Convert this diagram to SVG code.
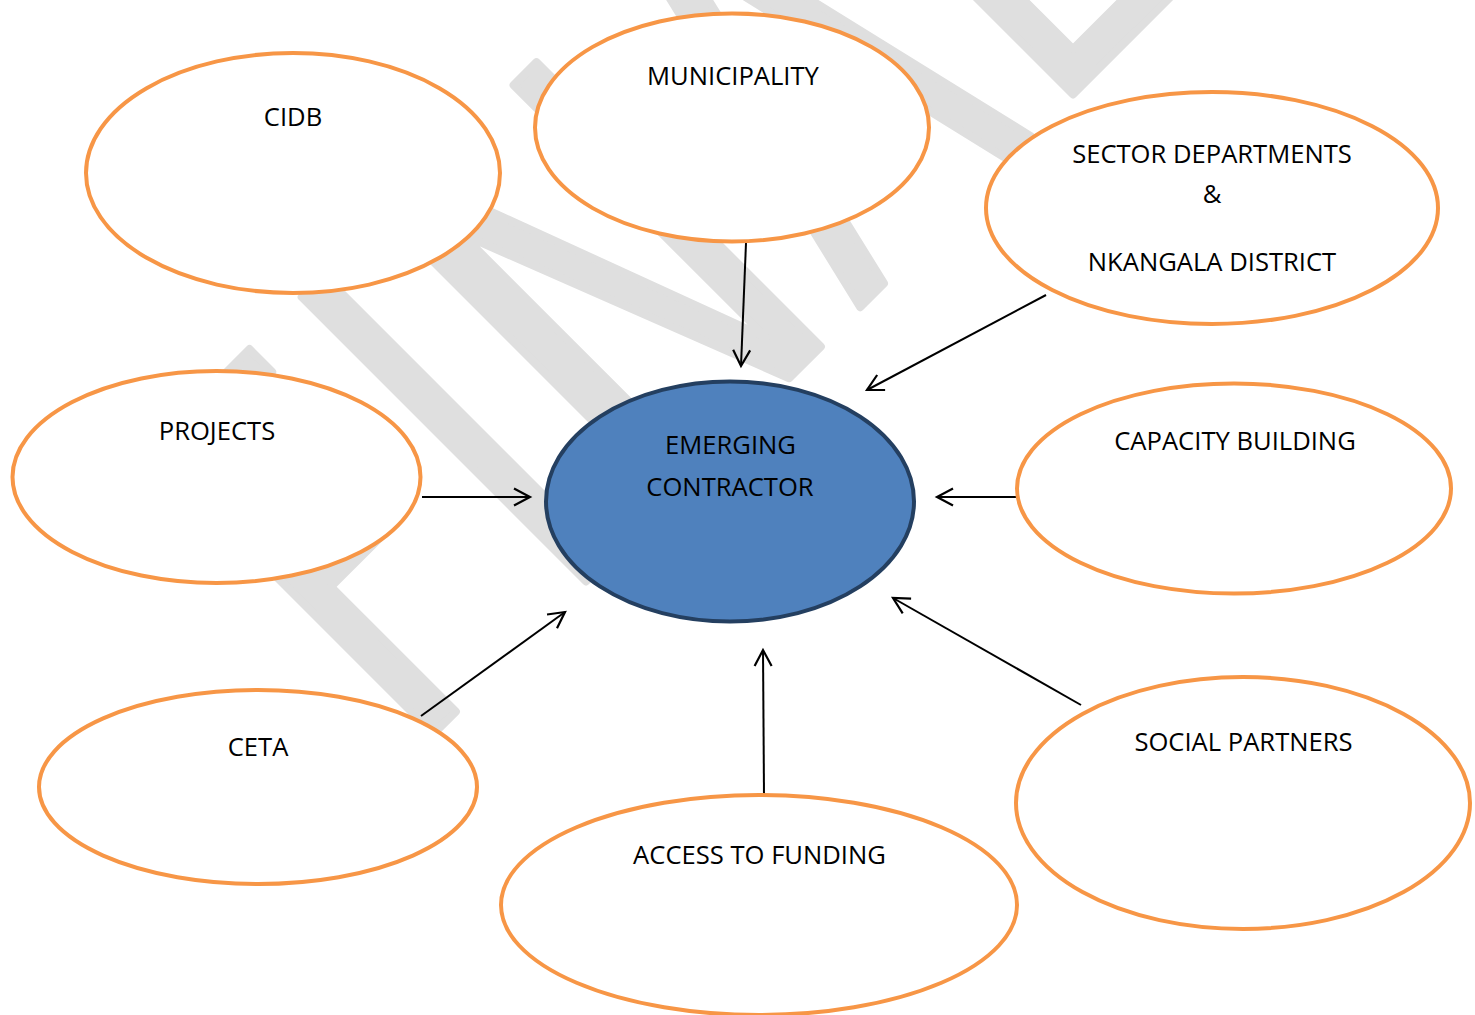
<svg xmlns="http://www.w3.org/2000/svg" width="1475" height="1015" viewBox="0 0 1475 1015">
  <defs>
    <style>
      .node { fill: #ffffff; stroke: #F79646; stroke-width: 4; }
      .hub { fill: #4F81BD; stroke: #243F60; stroke-width: 4; }
      .label { font-family: "Open Sans", "Liberation Sans", sans-serif; font-size: 25.6px; fill: #000000; text-anchor: middle; }
      .link { stroke: #000000; stroke-width: 2; fill: none; marker-end: url(#arrow); }
      .wm { fill: #dfdfdf; stroke: #dfdfdf; stroke-width: 8; stroke-linejoin: round; }
    </style>
    <marker id="arrow" markerUnits="userSpaceOnUse" markerWidth="24" markerHeight="24" viewBox="-20 -12 24 24" refX="0" refY="0" orient="auto">
      <path d="M-16,-8.5 L0,0 L-16,8.5" fill="none" stroke="#000000" stroke-width="2.2"/>
    </marker>
  </defs>

  <rect width="1475" height="1015" fill="#ffffff"/>

  <!-- diagonal watermark lettering -->
  <g id="watermark" class="wm" transform="rotate(-45)">
    <polygon points="-212.4,423.3 -70.4,423.3 -70.4,455.3 -180.8,455.3 -180.8,617 -100,617 -100,649 -180.8,649 -180.8,825.5 -212.4,825.5"/>
    <polygon points="3.3,423.3 34.2,423.3 34.2,825.5 3.3,825.5"/>
    <polygon points="121.4,423.3 170.2,423.3 303,780.3 303,423.3 335.4,423.3 335.4,825.5 290.6,825.5 161,492.2 161,825.5 121.4,825.5"/>
    <path fill-rule="evenodd" d="M486.5,423.3 L538.1,423.3 L632.7,825.5 L599.9,825.5 L569.4,696 L455.2,696 L424.7,825.5 L391,825.5 Z M512.3,452.9 L560,656 L464.6,656 Z"/>
    <polygon points="692,380 724,380 724,793.5 920,793.5 920,825.5 692,825.5"/>
  </g>

  <!-- connectors -->
  <g id="connectors">
    <line class="link" x1="746" y1="243" x2="741" y2="366"/>
    <line class="link" x1="1046" y1="295" x2="867" y2="390"/>
    <line class="link" x1="422" y1="497" x2="530" y2="497"/>
    <line class="link" x1="1016" y1="497" x2="937" y2="497"/>
    <line class="link" x1="421" y1="716" x2="565" y2="612"/>
    <line class="link" x1="764" y1="795" x2="763" y2="650"/>
    <line class="link" x1="1081" y1="705" x2="893" y2="598"/>
  </g>

  <g id="node-cidb">
    <ellipse class="node" cx="293" cy="173" rx="207" ry="120"/>
    <text class="label" x="293" y="126">CIDB</text>
  </g>
  <g id="node-municipality">
    <ellipse class="node" cx="732" cy="127.5" rx="197" ry="114"/>
    <text class="label" x="733" y="85">MUNICIPALITY</text>
  </g>
  <g id="node-sector">
    <ellipse class="node" cx="1212" cy="208" rx="226" ry="116"/>
    <text class="label" x="1212" y="163">SECTOR DEPARTMENTS</text>
    <text class="label" x="1212" y="203">&amp;</text>
    <text class="label" x="1212" y="271">NKANGALA DISTRICT</text>
  </g>
  <g id="node-projects">
    <ellipse class="node" cx="216.5" cy="477" rx="204" ry="106"/>
    <text class="label" x="217" y="440">PROJECTS</text>
  </g>
  <g id="node-emerging">
    <ellipse class="hub" cx="730" cy="501.5" rx="184" ry="120"/>
    <text class="label" x="730.5" y="454">EMERGING</text>
    <text class="label" x="730" y="496">CONTRACTOR</text>
  </g>
  <g id="node-capacity">
    <ellipse class="node" cx="1234" cy="488.5" rx="217" ry="105"/>
    <text class="label" x="1235" y="450">CAPACITY BUILDING</text>
  </g>
  <g id="node-ceta">
    <ellipse class="node" cx="258" cy="787" rx="219" ry="97"/>
    <text class="label" x="258" y="756">CETA</text>
  </g>
  <g id="node-funding">
    <ellipse class="node" cx="759" cy="905" rx="258" ry="110"/>
    <text class="label" x="759.5" y="864">ACCESS TO FUNDING</text>
  </g>
  <g id="node-social">
    <ellipse class="node" cx="1243" cy="803" rx="227" ry="126"/>
    <text class="label" x="1243.5" y="751">SOCIAL PARTNERS</text>
  </g>
</svg>
